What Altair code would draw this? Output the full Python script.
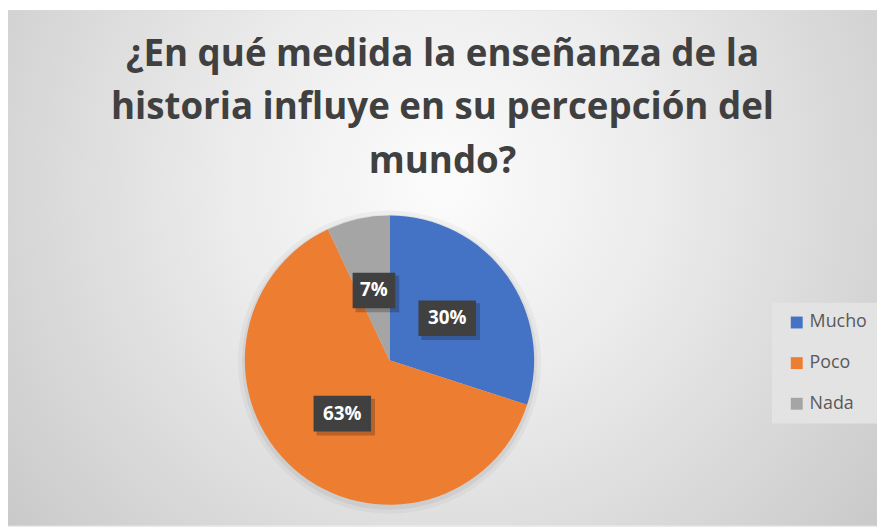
import altair as alt
import pandas as pd

# ---- data ----
categorias = ["Mucho", "Poco", "Nada"]
valores = [30, 63, 7]
etiquetas = ["30%", "63%", "7%"]
colores = ["#4472C4", "#ED7D31", "#A5A5A5"]
titulo = [
    "¿En qué medida la enseñanza de la",
    "historia influye en su percepción del",
    "mundo?",
]

# ---- layout constants ----
W, H = 877, 520
CX, CY, R = 385, 353, 146
RL = 72  # label radius

df = pd.DataFrame({
    "categoria": categorias,
    "valor": valores,
    "etiqueta": etiquetas,
    "orden": list(range(len(categorias))),
})
one = pd.DataFrame({"k": [0]})

grad = alt.RadialGradient(
    gradient="radial",
    stops=[
        alt.GradientStop(color="#fcfcfc", offset=0),
        alt.GradientStop(color="#ececec", offset=0.35),
        alt.GradientStop(color="#c4c4c4", offset=1),
    ],
    x1=0.5, y1=0.4, x2=0.5, y2=0.4, r1=0, r2=0.7,
)

bg = alt.Chart(one).mark_rect(fill=grad).encode(
    x=alt.value(0), x2=alt.value(W), y=alt.value(0), y2=alt.value(H)
)

halo1 = alt.Chart(one).mark_arc(outerRadius=R + 7, fill="#000000", opacity=0.035).encode(
    theta=alt.value(0), theta2=alt.value(6.2832), x=alt.value(CX), y=alt.value(CY + 2)
)
halo2 = alt.Chart(one).mark_arc(outerRadius=R + 3, fill="#000000", opacity=0.05).encode(
    theta=alt.value(0), theta2=alt.value(6.2832), x=alt.value(CX), y=alt.value(CY + 2)
)

base = alt.Chart(df)

pie = base.mark_arc(outerRadius=R).encode(
    theta=alt.Theta("valor:Q", stack=True),
    order=alt.Order("orden:Q"),
    color=alt.Color(
        "categoria:N",
        sort=categorias,
        scale=alt.Scale(domain=categorias, range=colores),
        legend=alt.Legend(
            title=None,
            orient="none",
            legendX=771,
            legendY=295,
            symbolType="square",
            symbolSize=144,
            symbolStrokeWidth=0,
            symbolOffset=5,
            labelFont="Open Sans",
            labelFontSize=18,
            labelColor="#595959",
            labelOffset=4,
            rowPadding=23,
            padding=11,
            fillColor="#e3e3e3",
        ),
    ),
    x=alt.value(CX),
    y=alt.value(CY),
)

lab = base.transform_joinaggregate(
    total="sum(valor)"
).transform_window(
    acum="sum(valor)", sort=[alt.SortField("orden")], frame=[None, 0]
).transform_calculate(
    ang="2*PI*(datum.acum - datum.valor/2)/datum.total",
).transform_calculate(
    lx=f"{CX} + {RL}*sin(datum.ang)",
    ly=f"{CY} - {RL}*cos(datum.ang)",
    bw="13 + 15*length(datum.etiqueta)",
).transform_calculate(
    bx0="datum.lx - datum.bw/2",
    bx1="datum.lx + datum.bw/2",
    by0="datum.ly - 18",
    by1="datum.ly + 18",
)

enc_box = dict(
    x=alt.X("bx0:Q", scale=None, axis=None),
    x2="bx1:Q",
    y=alt.Y("by0:Q", scale=None, axis=None),
    y2="by1:Q",
)

shadow = lab.mark_rect(
    color="#000000", opacity=0.22, xOffset=3, x2Offset=4, yOffset=3, y2Offset=4
).encode(**enc_box)
box = lab.mark_rect(color="#404040").encode(**enc_box)

txt = lab.mark_text(
    font="Open Sans", fontWeight="bold", fontSize=19, color="#ffffff",
    align="center", baseline="middle",
).encode(
    x=alt.X("lx:Q", scale=None, axis=None),
    y=alt.Y("ly:Q", scale=None, axis=None),
    text="etiqueta:N",
)

chart = alt.layer(bg, halo1, halo2, pie, shadow, box, txt).properties(
    width=W,
    height=H,
    autosize=alt.AutoSizeParams(type="none"),
    padding=0,
    title=alt.TitleParams(
        text=titulo,
        font="Open Sans",
        fontSize=37,
        fontWeight="bold",
        color="#404040",
        anchor="middle",
        frame="group",
        baseline="alphabetic",
        lineHeight=54,
        offset=-201,
    ),
).configure_view(stroke=None).configure(background="#ffffff")

chart.save("out.html", embed_options={"renderer": "svg", "actions": False})
